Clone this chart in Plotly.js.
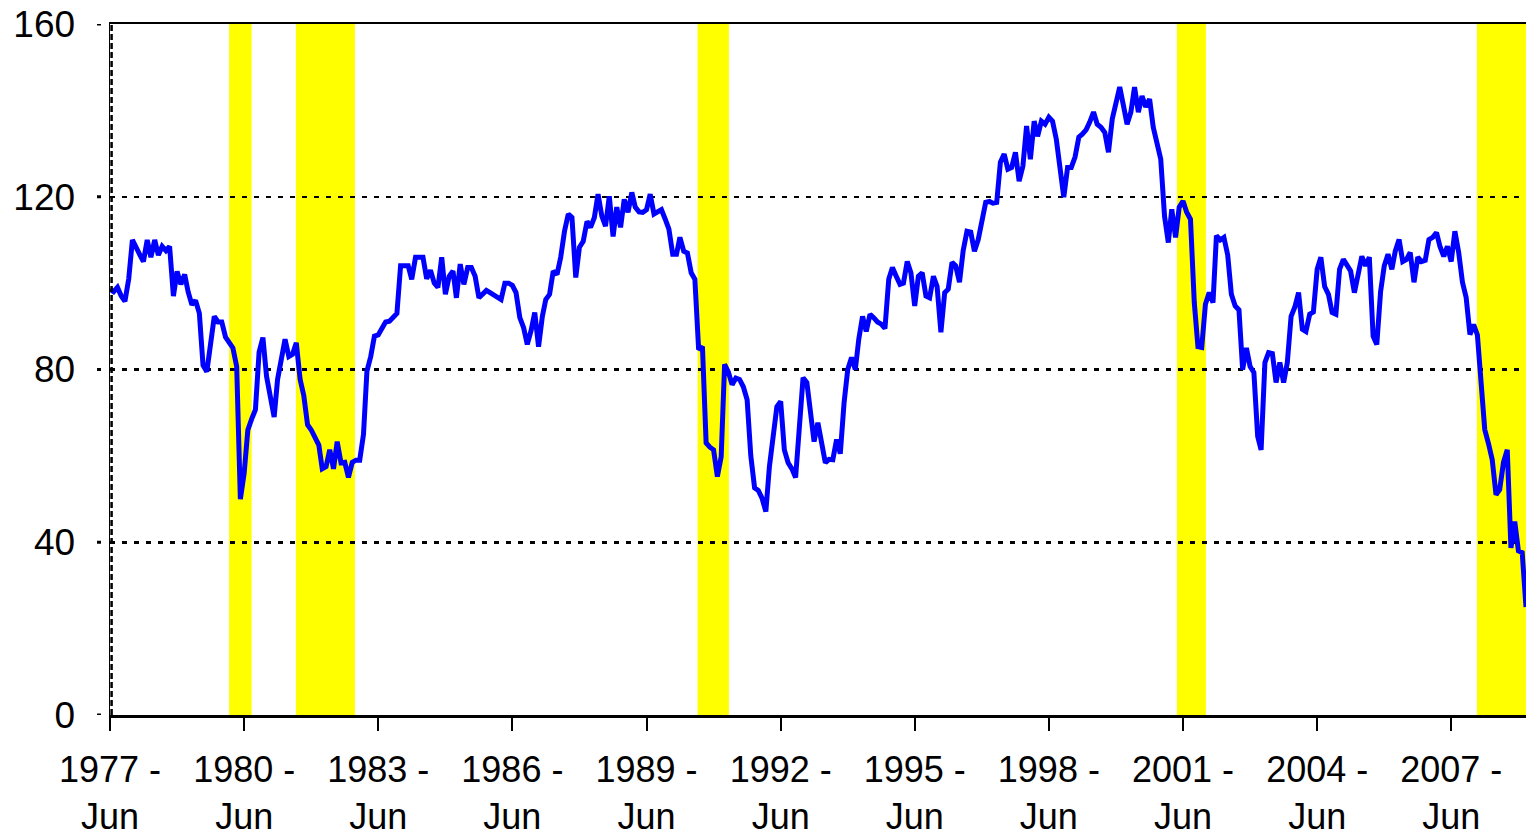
<!DOCTYPE html>
<html>
<head>
<meta charset="utf-8">
<script src="https://cdn.plot.ly/plotly-3.0.1.min.js"></script>
<style>
html,body{margin:0;padding:0;background:#fff;}
#chart{width:1526px;height:839px;}
</style>
</head>
<body>
<div id="chart"></div>
<script>
// Monthly consumer confidence index, June 1977 to February 2009
const startYear = 1977;
const startMonth = 6;
const confidence = [
  // 1977 Jun-Dec
  98.6, 98, 99, 97, 95.8, 101, 110,
  // 1978
  108, 106.5, 105, 110, 106, 110, 106.5, 108.5, 107.5, 108.5, 97, 102.7,
  // 1979
  99.7, 102, 98, 95, 96, 93, 81, 79.5, 86, 92.3, 91, 91,
  // 1980
  87.5, 86, 85, 80.7, 50, 56, 66, 68.5, 70.7, 84, 87.4, 78.4,
  // 1981
  73.5, 69, 77.7, 82, 87, 83, 83.5, 86.2, 77.7, 74, 67.2, 66,
  // 1982
  64.5, 62.5, 57, 57.5, 61.4, 57, 63.3, 58.4, 58.5, 55, 58.5, 59,
  // 1983
  59, 65, 79.6, 83, 87.7, 88, 89.5, 91, 91.2, 92, 93, 104,
  // 1984
  104, 104, 100.9, 106, 106, 106, 101, 103, 100, 99, 106, 97.4,
  // 1985
  101.6, 102.8, 96.6, 104.4, 99.7, 103.6, 103.6, 101.6, 96.6, 97.5, 98.3, 97.8,
  // 1986
  97.3, 96.8, 96.2, 100, 100, 99.5, 97.8, 92, 89.7, 85.8, 89, 93.2,
  // 1987
  85.3, 92.3, 96.2, 97.4, 102.8, 102, 106, 112, 116, 115.2, 101.3, 108.3,
  // 1988
  109.7, 114.3, 112.9, 115.2, 120.6, 115.5, 113.2, 120.1, 110.8, 117.6, 112.9, 119.4,
  // 1989
  116.4, 121, 117.6, 116.5, 116.4, 117, 120.6, 116, 116.5, 117, 114.8, 112.5,
  // 1990
  106.7, 106.7, 110.6, 107.4, 107, 102.4, 100.9, 84.6, 85.3, 63, 62, 61.4,
  // 1991
  55.2, 59.8, 81.2, 79.4, 76.5, 78, 77.7, 76, 73, 60, 52.6, 52,
  // 1992
  50.2, 47.1, 57.5, 65, 71.4, 72.6, 61.4, 58.4, 57, 55, 65.5, 78.1,
  // 1993
  77, 68.4, 63.3, 67.7, 62.2, 58.4, 59.2, 59.1, 63.8, 60.5, 72.3, 80,
  // 1994
  82.8, 80, 87, 92.3, 88.8, 92.8, 92, 91, 90.5, 89.5, 100.9, 103.6,
  // 1995
  101.6, 99.7, 100, 105, 102.4, 94.7, 101.6, 102.4, 97, 96.6, 101.6, 99.2,
  // 1996
  88.6, 97.8, 98.6, 104.8, 104, 100.2, 107.5, 112, 111.8, 107.4, 110.1, 114.8,
  // 1997
  118.7, 118.9, 118.5, 118.7, 128, 129.9, 126.4, 126.8, 130.3, 123.6, 127.1, 136.4,
  // 1998
  128.7, 137.5, 134, 137.5, 136.8, 138.4, 137.5, 133.3, 127.1, 119.9, 126.8, 126.8,
  // 1999
  129.2, 133.8, 134.5, 135.5, 137.3, 139.6, 136.8, 136.1, 134.9, 130.3, 138, 141.9,
  // 2000
  145.4, 141, 136.8, 139.6, 145.4, 139.6, 143.3, 140.8, 142.6, 136.1, 132.6, 128.7,
  // 2001
  115.5, 109.4, 117.1, 110.6, 117.6, 119, 116.4, 114.8, 95.5, 85.3, 85.1, 95.1,
  // 2002
  97.8, 95.5, 111, 110, 110.6, 106.5, 97.4, 94.7, 93.8, 80, 85, 80.7,
  // 2003
  79.3, 64.5, 61.4, 81.6, 83.9, 83.7, 77, 81.6, 77, 81.6, 92.3, 94.4,
  // 2004
  97.8, 89.3, 88.8, 92.8, 93.3, 103.2, 106, 99.2, 97.4, 93.2, 92.8, 103.2,
  // 2005
  105.5, 104.3, 102.8, 97.8, 102.4, 106.2, 104, 106, 87.7, 85.8, 98, 104,
  // 2006
  106.7, 103.2, 107.4, 110.1, 105, 105.5, 107.1, 100.2, 106, 105, 105.3, 110.1,
  // 2007
  110.6, 111.7, 108.5, 106.2, 108.5, 105, 112, 107.1, 100.2, 96.7, 88.1, 90.4,
  // 2008
  88, 76.5, 66.1, 62.8, 59.1, 51, 52.2, 58.5, 61.4, 38.7, 44.8, 38,
  // 2009 Jan-Feb
  37.6, 25
];

const tickDates = ['1977-06-01','1980-06-01','1983-06-01','1986-06-01','1989-06-01','1992-06-01',
                   '1995-06-01','1998-06-01','2001-06-01','2004-06-01','2007-06-01'];
const tickLabels = ['1977 -<br>Jun','1980 -<br>Jun','1983 -<br>Jun','1986 -<br>Jun','1989 -<br>Jun',
                    '1992 -<br>Jun','1995 -<br>Jun','1998 -<br>Jun','2001 -<br>Jun','2004 -<br>Jun','2007 -<br>Jun'];
const yTicks = [0, 40, 80, 120, 160];

// Recession shading periods
const recessionStart = ['1980-01-30','1981-07-29','1990-07-23','2001-04-12','2007-12-28'];
const recessionEnd   = ['1980-08-01','1982-11-23','1991-04-05','2001-12-05','2009-02-01'];

// Build month dates
const dates = confidence.map((_, k) => {
  const m0 = (startMonth - 1) + k;
  const y = startYear + Math.floor(m0 / 12);
  const m = (m0 % 12) + 1;
  return y + '-' + String(m).padStart(2, '0') + '-01';
});

const FONT = 'Liberation Sans, Arial, Helvetica, sans-serif';

const shapes = [];
recessionStart.forEach((s, k) => {
  shapes.push({
    type: 'rect', xref: 'x', yref: 'paper', x0: s, x1: recessionEnd[k], y0: 0, y1: 1,
    fillcolor: '#FFFF00', line: {width: 0}, layer: 'between'
  });
});
// dotted tick marks on the value axis (left of the axis line)
yTicks.forEach(v => {
  shapes.push({
    type: 'line', xref: 'paper', yref: 'y', x0: -13/1416, x1: -1/1416, y0: v, y1: v,
    line: {color: '#000', width: 3, dash: '4px,8px'}, layer: 'above'
  });
});
// dotted inner border on left edge
shapes.push({
  type: 'line', xref: 'paper', yref: 'paper', x0: 1.6/1416, x1: 1.6/1416, y0: 0, y1: 1,
  line: {color: '#000', width: 2.5, dash: '6px,3px'}, layer: 'above'
});

const trace = {
  type: 'scatter', mode: 'lines', x: dates, y: confidence,
  line: {color: '#0000FF', width: 5},
  hoverinfo: 'x+y', showlegend: false
};

const layout = {
  width: 1526, height: 839,
  margin: {l: 110, r: 0, t: 24, b: 124, pad: 0},
  paper_bgcolor: '#FFFFFF', plot_bgcolor: '#FFFFFF',
  font: {family: FONT, size: 36, color: '#000'},
  showlegend: false,
  xaxis: {
    type: 'date',
    range: [dates[0], dates[dates.length - 1]],
    tickmode: 'array', tickvals: tickDates, ticktext: tickLabels,
    ticks: 'outside', ticklen: 13, tickwidth: 2, tickcolor: '#000',
    showline: true, linecolor: '#000', linewidth: 2.5, mirror: true,
    showgrid: false, zeroline: false,
    tickfont: {family: FONT, size: 36, color: '#000'},
    ticklabelstandoff: 8
  },
  yaxis: {
    range: [0, 160],
    tickmode: 'array', tickvals: yTicks, ticktext: yTicks.map(String),
    ticks: '', showline: true, linecolor: '#000', linewidth: 1.5,
    showgrid: true, gridcolor: '#000', gridwidth: 2.5, griddash: '5px,7px',
    zeroline: false,
    tickfont: {family: FONT, size: 37, color: '#000'},
    ticklabelstandoff: 26
  },
  shapes: shapes
};

Plotly.newPlot('chart', [trace], layout, {displayModeBar: false, staticPlot: true});
</script>
</body>
</html>
